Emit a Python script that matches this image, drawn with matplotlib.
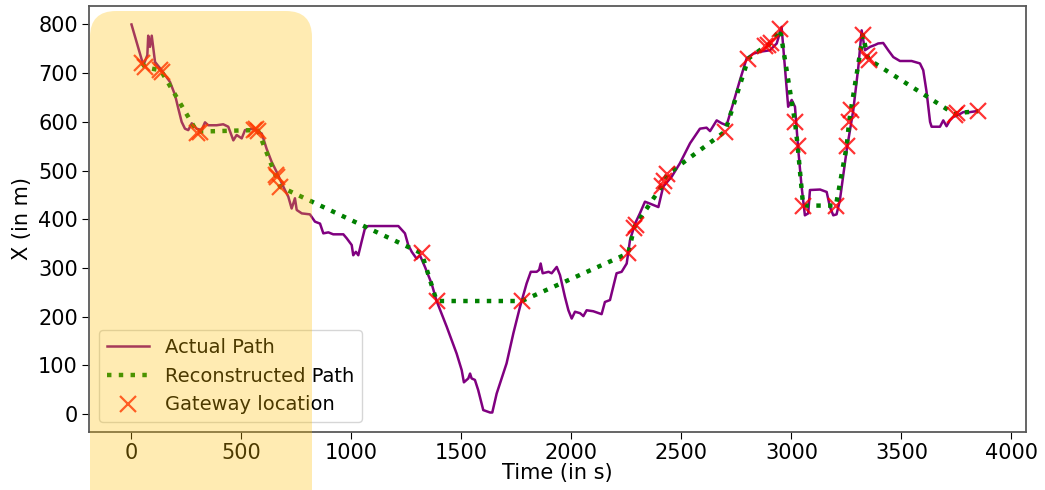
import matplotlib
matplotlib.use('Agg')
import matplotlib.pyplot as plt
from matplotlib.patches import FancyBboxPatch
from matplotlib.transforms import IdentityTransform

# actual path (time in s, X in m)
actual_t = [0, 54, 72, 76, 84, 92, 99, 107, 137, 175,
            198, 213, 228, 243, 258, 274, 296, 319, 334, 349,
            387, 417, 440, 463, 478, 501, 516, 554, 592, 614,
            637, 660, 690, 713, 728, 743, 751, 774, 811, 834,
            857, 872, 895, 917, 963, 978, 1001, 1008, 1020, 1031,
            1046, 1061, 1076, 1130, 1213, 1243, 1258, 1274, 1296, 1311,
            1334, 1364, 1387, 1433, 1478, 1501, 1511, 1531, 1539, 1546,
            1561, 1576, 1599, 1630, 1640, 1660, 1690, 1705, 1736, 1766,
            1796, 1815, 1842, 1853, 1860, 1869, 1896, 1910, 1933, 1948,
            1970, 1986, 2001, 2016, 2039, 2054, 2069, 2099, 2137, 2152,
            2175, 2205, 2228, 2251, 2266, 2289, 2311, 2334, 2357, 2395,
            2417, 2455, 2493, 2539, 2584, 2614, 2630, 2660, 2683, 2705,
            2735, 2766, 2796, 2826, 2857, 2902, 2933, 2955, 2970, 2985,
            3001, 3016, 3031, 3046, 3061, 3076, 3084, 3130, 3160, 3175,
            3190, 3205, 3220, 3251, 3281, 3304, 3319, 3334, 3357, 3380,
            3394, 3417, 3440, 3463, 3493, 3546, 3584, 3599, 3614, 3630,
            3637, 3675, 3690, 3705, 3720, 3735, 3758, 3781, 3811, 3842]
actual_x = [800, 716, 737, 777, 754, 777, 751, 723, 706, 682,
            655, 627, 600, 586, 583, 597, 586, 583, 599, 593,
            593, 595, 590, 562, 573, 566, 583, 586, 576, 545,
            518, 497, 467, 446, 422, 443, 419, 412, 410, 395,
            391, 371, 373, 369, 369, 361, 347, 326, 333, 326,
            354, 381, 386, 386, 386, 371, 347, 333, 319, 326,
            302, 268, 232, 179, 124, 90, 65, 73, 83, 73,
            70, 49, 8, 3, 3, 42, 83, 104, 166, 220,
            268, 292, 292, 296, 309, 289, 292, 289, 302, 285,
            241, 213, 196, 210, 207, 201, 213, 211, 205, 230,
            234, 289, 292, 309, 357, 391, 412, 436, 432, 425,
            467, 487, 515, 556, 586, 588, 581, 603, 597, 593,
            638, 686, 730, 740, 744, 747, 761, 795, 713, 631,
            645, 631, 542, 467, 408, 412, 460, 461, 456, 425,
            408, 410, 439, 542, 624, 713, 788, 747, 754, 758,
            761, 762, 747, 733, 725, 725, 720, 706, 662, 600,
            590, 590, 603, 591, 603, 610, 614, 620, 620, 622]

# gateway locations (the reconstructed path joins them in order)
gw_t = [50, 62, 130, 138, 300, 310, 555, 565, 575, 655,
        662, 675, 1319, 1387, 1774, 2258, 2285, 2292, 2410, 2420,
        2435, 2698, 2804, 2880, 2895, 2905, 2948, 3016, 3028, 3053,
        3202, 3251, 3262, 3270, 3325, 3345, 3352, 3745, 3752, 3849]
gw_x = [720, 712, 706, 702, 578, 580, 583, 585, 582, 490,
        486, 467, 330, 232, 232, 330, 383, 388, 468, 478,
        492, 580, 730, 755, 758, 762, 790, 600, 551, 428,
        428, 550, 600, 624, 778, 735, 728, 615, 618, 622]

fig = plt.figure(figsize=(10.45, 4.9), dpi=100)
ax = fig.add_axes([0.0852, 0.1184, 0.8966, 0.8694])

ax.plot(actual_t, actual_x, color='purple', lw=1.8, label='Actual Path')
ax.plot(gw_t, gw_x, color='green', lw=3.2, ls=':', label='Reconstructed Path')
ax.plot(gw_t, gw_x, ls='none', marker='x', color='red', ms=12, mew=1.6,
        alpha=0.8, label='Gateway location')

ax.set_xlim(-193, 4066)
ax.set_ylim(-37, 838)
ax.set_xticks([0, 500, 1000, 1500, 2000, 2500, 3000, 3500, 4000])
ax.set_yticks([0, 100, 200, 300, 400, 500, 600, 700, 800])
ax.tick_params(labelsize=15, length=5, pad=3)
ax.set_xlabel('Time (in s)', fontsize=15, labelpad=0)
ax.set_ylabel('X (in m)', fontsize=15)
for s in ax.spines.values():
    s.set_color('0.35')
    s.set_linewidth(1.3)

ax.legend(loc='lower left', fontsize=14, handlelength=2.2)

# highlight box drawn over everything
box = FancyBboxPatch((90, -60), 222, 539, boxstyle='round,pad=0,rounding_size=26',
                     transform=IdentityTransform(), facecolor='#FFC000',
                     edgecolor='none', alpha=0.3, zorder=10)
fig.add_artist(box)

fig.savefig('out.png', dpi=100)
